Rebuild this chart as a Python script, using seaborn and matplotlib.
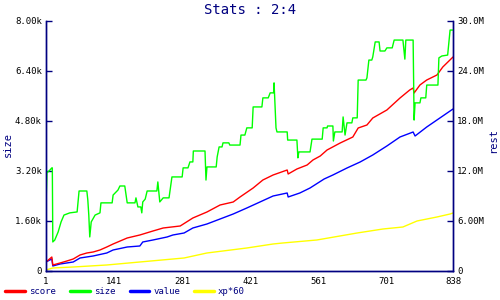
import matplotlib
matplotlib.use("Agg")
import matplotlib.pyplot as plt
import seaborn as sns
import pandas as pd
from matplotlib.ticker import FixedLocator
from matplotlib.lines import Line2D

sns.set_theme(style="white")
plt.rcParams['font.family'] = ['DejaVu Sans Mono', 'DejaVu Sans']

NAVY = "#000080"

# size (left axis, units)
size_x = [1, 3, 9, 13, 14, 15, 19, 26, 32, 38, 50, 65, 69, 85, 87, 89, 91, 94, 102, 112,
          114, 137, 139, 149, 153, 163, 168, 184, 186, 190, 196, 198, 200, 205, 209, 229,
          231, 235, 242, 254, 260, 281, 283, 293, 297, 303, 304, 328, 330, 332, 351, 353,
          357, 363, 365, 377, 379, 400, 402, 410, 414, 425, 427, 445, 447, 458, 462, 469,
          470, 474, 476, 497, 498, 517, 519, 521, 544, 548, 569, 571, 579, 580, 591, 592,
          595, 610, 612, 616, 620, 630, 632, 641, 643, 659, 661, 665, 671, 673, 678, 686,
          688, 698, 702, 713, 717, 735, 739, 741, 756, 758, 760, 770, 772, 782, 784, 807,
          809, 815, 827, 832, 838]
size_y = [2110, 3140, 3230, 3300, 3300, 930, 990, 1250, 1570, 1790, 1860, 1890, 2560, 2560,
          2270, 1790, 1090, 1570, 1790, 1860, 2180, 2180, 2430, 2590, 2720, 2720, 2180, 2180,
          2340, 2050, 2050, 1860, 2210, 2300, 2560, 2560, 2850, 2210, 2340, 2340, 3010, 3010,
          3300, 3300, 3490, 3490, 3840, 3840, 2910, 3330, 3330, 3650, 3970, 3970, 4100, 4100,
          4030, 4030, 4350, 4350, 4580, 4580, 5250, 5250, 5540, 5540, 5700, 5700, 6020, 4580,
          4450, 4450, 4190, 4190, 3620, 3810, 3810, 4220, 4220, 4580, 4580, 4640, 4640, 4160,
          4450, 4450, 4930, 4350, 4740, 4740, 4900, 4900, 6110, 6110, 6180, 6750, 6750, 6850,
          7330, 7330, 7040, 7040, 7140, 7140, 7390, 7390, 6780, 7390, 7390, 4830, 5380, 5380,
          5540, 5540, 5950, 5950, 6820, 6880, 6910, 7710, 7710]

# score (right axis, millions)
score_x = [1, 13, 15, 30, 44, 57, 71, 85, 98, 112, 126, 139, 168, 194, 221, 242, 277, 303,
           332, 359, 386, 400, 427, 447, 468, 497, 499, 517, 538, 550, 565, 579, 606, 632,
           643, 661, 673, 702, 729, 749, 756, 758, 770, 784, 805, 817, 838]
score_y = [1.08, 1.68, 0.72, 0.96, 1.20, 1.44, 1.92, 2.16, 2.28, 2.52, 2.88, 3.24, 3.96, 4.32,
           4.80, 5.16, 5.40, 6.36, 7.08, 7.92, 8.28, 8.88, 9.96, 10.92, 11.52, 12.12, 11.64,
           12.24, 12.72, 13.32, 13.80, 14.52, 15.36, 16.08, 17.16, 17.52, 18.36, 19.32, 20.76,
           21.72, 21.96, 21.36, 22.32, 22.92, 23.52, 24.48, 25.68]

# value (right axis, millions)
value_x = [1, 13, 15, 30, 57, 71, 98, 126, 139, 168, 194, 200, 221, 250, 262, 285, 303, 332,
           359, 386, 414, 441, 468, 497, 499, 523, 544, 573, 591, 620, 647, 673, 702, 729,
           756, 760, 784, 811, 838]
value_y = [1.08, 1.44, 0.60, 0.84, 1.08, 1.56, 1.80, 2.16, 2.52, 2.88, 3.00, 3.48, 3.72, 4.08,
           4.32, 4.56, 5.16, 5.64, 6.24, 6.84, 7.56, 8.28, 9.00, 9.36, 8.88, 9.36, 9.96, 11.04,
           11.52, 12.36, 13.08, 13.92, 15.00, 16.08, 16.68, 16.20, 17.28, 18.36, 19.44]

# xp*60 (right axis, millions)
xp_x = [1, 15, 57, 126, 194, 285, 332, 414, 468, 488, 558, 641, 694, 735, 764, 805, 832, 838]
xp_y = [0.12, 0.36, 0.48, 0.72, 1.08, 1.56, 2.16, 2.76, 3.24, 3.36, 3.72, 4.56, 5.04, 5.28,
        6.00, 6.48, 6.84, 6.96]

x_ticks = [1, 141, 281, 421, 561, 701, 838]
left_ticks = [0, 1600, 3200, 4800, 6400, 8000]
left_labels = ["0", "1.60k", "3.20k", "4.80k", "6.40k", "8.00k"]
right_ticks = [0, 6, 12, 18, 24, 30]
right_labels = ["0", "6.00M", "12.0M", "18.0M", "24.0M", "30.0M"]

fig = plt.figure(figsize=(5, 3), dpi=100)
fig.patch.set_facecolor("white")
pos = [0.092, 0.0967, 0.814, 0.8333]
ax = fig.add_axes(pos)
ax2 = ax.twinx()
ax.set_position(pos)
ax2.set_position(pos)

kw = dict(x="x", y="y", linewidth=1, legend=False, sort=False, estimator=None)
sns.lineplot(data=pd.DataFrame({"x": size_x, "y": size_y}), ax=ax, color="#00ff00", **kw)
sns.lineplot(data=pd.DataFrame({"x": xp_x, "y": xp_y}), ax=ax2, color="#ffff00", **kw)
sns.lineplot(data=pd.DataFrame({"x": value_x, "y": value_y}), ax=ax2, color="#0000ff", **kw)
sns.lineplot(data=pd.DataFrame({"x": score_x, "y": score_y}), ax=ax2, color="#ff0000", **kw)
ax.set_zorder(ax2.get_zorder() + 1)
ax.patch.set_visible(False)

for a in (ax, ax2):
    a.set_xlim(1, 838)
    a.set_xlabel("")
    a.set_ylabel("")
    for s in a.spines.values():
        s.set_color(NAVY)
        s.set_linewidth(1)
    a.spines["top"].set_visible(False)
    a.grid(False)
ax.set_ylim(0, 8000)
ax2.set_ylim(0, 30)
ax.xaxis.set_major_locator(FixedLocator(x_ticks))
ax.set_xticklabels([str(t) for t in x_ticks])
ax.set_yticks(left_ticks)
ax.set_yticklabels(left_labels)
ax2.set_yticks(right_ticks)
ax2.set_yticklabels(right_labels)
for a in (ax, ax2):
    a.tick_params(axis="both", direction="in", length=4, width=1, color=NAVY,
                  labelsize=6.5, labelcolor="black", pad=3)
ax.tick_params(axis="x", pad=4)

fig.text(0.5, 0.968, "Stats : 2:4", ha="center", va="center", color=NAVY, fontsize=10)
fig.text(0.016, 0.517, "size", rotation=90, ha="center", va="center", color=NAVY, fontsize=7.5)
fig.text(0.986, 0.533, "rest", rotation=90, ha="center", va="center", color=NAVY, fontsize=7.5)

names = ["score", "size", "value", "xp*60"]
colors = ["#ff0000", "#00ff00", "#0000ff", "#ffff00"]
handles = [Line2D([0], [0], color=c, linewidth=2.5) for c in colors]
leg = fig.legend(handles, names, loc="lower left", bbox_to_anchor=(0.0, -0.005), ncol=4,
                 frameon=False, fontsize=6.5, handlelength=2.2, handletextpad=0.4,
                 columnspacing=1.6, borderaxespad=0.2)
for t in leg.get_texts():
    t.set_color(NAVY)

fig.savefig("out.png", dpi=100, facecolor="white")
